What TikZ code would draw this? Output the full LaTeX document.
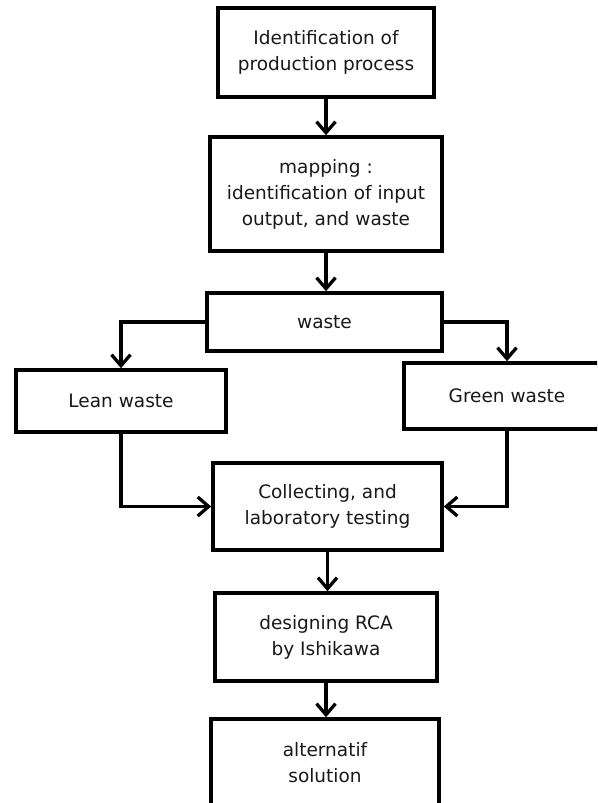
\documentclass[tikz,border=0pt]{standalone}
\usepackage{fontspec}
\setmainfont{DejaVu Sans}
\usetikzlibrary{arrows.meta}
\begin{document}
\begin{tikzpicture}[x=1pt,y=-1pt,
  box/.style={draw, line width=3.6pt, rectangle, align=center, inner sep=0pt,
    text=black!90, font=\fontsize{18.5}{26}\selectfont},
  flow/.style={line width=3.3pt,
    -{Straight Barb[length=11pt,width=19pt,line width=3.3pt]}}]
  % page frame
  \fill[white] (0,0) rectangle (597,803);
  \useasboundingbox (0,0) rectangle (597,803);
  \clip (0,0) rectangle (597,803);

  % process boxes
  \node[box, minimum width=216pt, minimum height=89pt] (ident) at (326,52.5)
    {Identification of\\production process};
  \node[box, minimum width=232pt, minimum height=114pt] (map) at (326,194)
    {mapping :\\identification of input\\output, and waste};
  \node[box, minimum width=235pt, minimum height=58pt] (waste) at (324.5,322)
    {waste};
  \node[box, minimum width=210pt, minimum height=62pt] (lean) at (121,401)
    {Lean waste};
  \node[box, minimum width=206pt, minimum height=66pt] (green) at (507,396)
    {Green waste};
  \node[box, minimum width=229pt, minimum height=87pt] (collect) at (327.5,506.5)
    {Collecting, and\\laboratory testing};
  \node[box, minimum width=222pt, minimum height=88pt] (design) at (326,637)
    {designing RCA\\by Ishikawa};
  \node[box, minimum width=228pt, minimum height=88pt] (alt) at (325,763)
    {alternatif\\solution};

  % connectors
  \draw[flow] (ident.south) -- (ident.south |- map.north);
  \draw[flow] (map.south) -- (map.south |- waste.north);
  \draw[flow] (waste.west) -| (lean.north);
  \draw[flow] (waste.east) -| (green.north);
  \draw[flow] (lean.south) |- (collect.west);
  \draw[flow] (green.south) |- (collect.east);
  \draw[flow] (collect.south) -- (collect.south |- design.north);
  \draw[flow] (design.south) -- (design.south |- alt.north);
\end{tikzpicture}
\end{document}
